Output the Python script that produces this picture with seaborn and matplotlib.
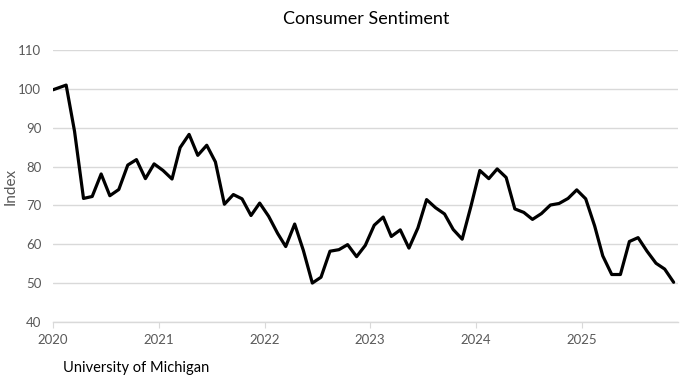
import matplotlib
matplotlib.use("Agg")
import matplotlib.dates as mdates
import matplotlib.pyplot as plt
import pandas as pd
import seaborn as sns

# University of Michigan consumer sentiment, monthly from Jan 2020
sentiment_2020 = [99.8, 101.0, 89.1, 71.8, 72.3, 78.1, 72.5, 74.1, 80.4, 81.8, 76.9, 80.7]
sentiment_2021 = [79.0, 76.8, 84.9, 88.3, 82.9, 85.5, 81.2, 70.3, 72.8, 71.7, 67.4, 70.6]
sentiment_2022 = [67.2, 62.8, 59.4, 65.2, 58.4, 50.0, 51.5, 58.2, 58.6, 59.9, 56.8, 59.7]
sentiment_2023 = [64.9, 67.0, 62.0, 63.7, 59.0, 64.2, 71.5, 69.4, 67.8, 63.8, 61.3, 69.7]
sentiment_2024 = [79.0, 76.9, 79.4, 77.2, 69.1, 68.2, 66.4, 67.9, 70.1, 70.5, 71.8, 74.0]
sentiment_2025 = [71.7, 64.7, 57.0, 52.2, 52.2, 60.7, 61.7, 58.2, 55.1, 53.6, 50.2]

values = (sentiment_2020 + sentiment_2021 + sentiment_2022
          + sentiment_2023 + sentiment_2024 + sentiment_2025)
# points sit mid-month, except the first which starts on the axis
months = pd.date_range("2020-01-01", periods=len(values), freq="MS") + pd.Timedelta(days=14)
months = months.insert(0, pd.Timestamp("2020-01-01")).delete(1)
y_ticks = [40, 50, 60, 70, 80, 90, 100, 110]

df = pd.DataFrame({"month": months, "index": values})

sns.set_style("white")
plt.rcParams["font.family"] = ["Lato", "DejaVu Sans"]

fig, ax = plt.subplots(figsize=(6.9, 3.8), dpi=100)
fig.subplots_adjust(left=0.077, right=0.983, top=0.868, bottom=0.153)

sns.lineplot(data=df, x="month", y="index", color="black", linewidth=2.3, ax=ax)

ax.set_ylim(40, 110)
ax.set_yticks(y_ticks)
ax.set_xlim(pd.Timestamp("2020-01-01"), pd.Timestamp("2025-12-01"))
ax.xaxis.set_major_locator(mdates.YearLocator())
ax.xaxis.set_major_formatter(mdates.DateFormatter("%Y"))

ax.grid(axis="y", color="#d9d9d9", linewidth=1)
ax.grid(axis="x", visible=False)
ax.set_axisbelow(True)
for side in ["top", "right", "left"]:
    ax.spines[side].set_visible(False)
ax.spines["bottom"].set_color("#d9d9d9")
ax.spines["bottom"].set_linewidth(1)

ax.tick_params(axis="y", length=0, labelsize=9.5, labelcolor="#595959", pad=8.5)
ax.tick_params(axis="x", length=4, color="#d9d9d9", labelsize=9.5,
               labelcolor="#595959", pad=5, bottom=True)

ax.set_xlabel("")
ax.set_ylabel("Index", fontsize=11, color="#595959")
ax.yaxis.set_label_coords(-0.057, 0.5)
ax.set_title("Consumer Sentiment", fontsize=13, color="black", pad=19)

fig.text(0.091, 0.02, "University of Michigan", fontsize=10.5, color="black")

fig.savefig("out.png", dpi=100)
plt.close(fig)
